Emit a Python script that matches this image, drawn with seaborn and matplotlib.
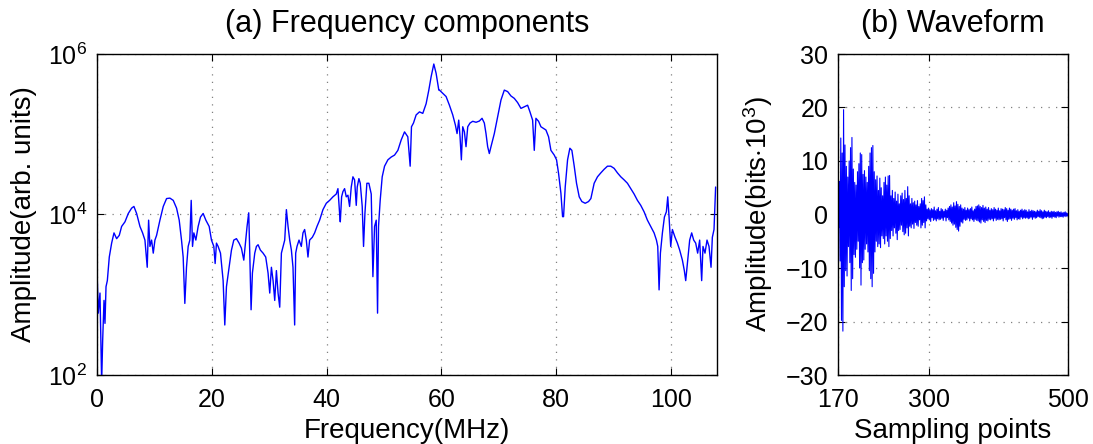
import numpy as np
import pandas as pd
import matplotlib
matplotlib.use("Agg")
import matplotlib.pyplot as plt
import seaborn as sns

# ---------------- data ----------------
freq_mhz = [
    0.0, 0.23, 0.52, 0.81, 0.99, 1.22, 1.39, 1.57, 1.80, 2.14, 2.55, 2.96, 3.42, 3.88, 4.29, 4.87,
    5.45, 6.03, 6.43, 6.90, 7.48, 7.94, 8.35, 8.75, 8.99, 9.22, 9.51, 9.80, 10.09, 10.38, 10.96,
    11.54, 12.12, 12.70, 13.28, 13.86, 14.32, 14.72, 15.01, 15.30, 15.59, 15.88, 16.17, 16.41,
    16.64, 16.87, 17.22, 17.62, 18.03, 18.49, 18.96, 19.54, 19.94, 20.35, 20.58, 20.81, 21.10,
    21.51, 21.97, 22.26, 22.55, 23.01, 23.42, 23.83, 24.29, 24.75, 25.16, 25.57, 25.91, 26.14,
    26.43, 26.61, 26.84, 27.07, 27.48, 27.77, 28.06, 28.46, 28.93, 29.39, 29.80, 30.09, 30.38,
    30.67, 30.96, 31.25, 31.54, 31.83, 32.12, 32.41, 32.70, 32.99, 33.28, 33.57, 33.86, 34.14,
    34.43, 34.61, 34.84, 35.19, 35.59, 35.88, 36.17, 36.46, 36.75, 37.04, 37.51, 37.91, 38.32,
    38.78, 39.36, 39.94, 40.52, 41.10, 41.68, 41.97, 42.26, 42.38, 42.61, 42.84, 43.13, 43.42,
    43.71, 44.00, 44.29, 44.58, 44.87, 45.16, 45.33, 45.62, 45.86, 46.20, 46.43, 46.67, 47.01,
    47.36, 47.77, 48.06, 48.35, 48.64, 48.87, 49.04, 49.33, 49.68, 50.09, 50.67, 51.25, 51.83,
    52.41, 52.99, 53.57, 54.14, 54.55, 54.78, 55.13, 55.59, 56.17, 56.75, 57.33, 57.80, 58.20,
    58.67, 59.07, 59.54, 59.65, 60.23, 60.81, 61.39, 61.97, 62.43, 62.72, 63.01, 63.24, 63.47,
    63.71, 64.00, 64.28, 64.58, 64.98, 65.45, 66.03, 66.60, 67.07, 67.47, 67.76, 68.05, 68.34,
    68.63, 69.21, 69.79, 70.37, 70.95, 71.53, 72.11, 72.69, 73.27, 73.85, 74.43, 75.01, 75.42,
    75.88, 76.17, 76.46, 76.92, 77.33, 77.73, 78.20, 78.66, 79.07, 79.65, 80.05, 80.40, 80.81,
    81.10, 81.27, 81.56, 81.97, 82.37, 82.72, 83.13, 83.53, 84.00, 84.46, 85.04, 85.62, 86.03,
    86.60, 87.18, 87.76, 88.34, 88.92, 89.50, 90.08, 90.66, 91.24, 91.82, 92.40, 92.98, 93.56,
    94.14, 94.72, 95.30, 95.88, 96.46, 97.04, 97.45, 97.68, 97.91, 98.14, 98.49, 98.84, 99.18,
    99.42, 99.65, 99.94, 100.23, 100.69, 101.10, 101.50, 101.97, 102.31, 102.55, 102.89, 103.24,
    103.59, 103.94, 104.29, 104.63, 104.98, 105.33, 105.56, 105.91, 106.26, 106.61, 106.96,
    107.19, 107.48, 107.76,
]
spectrum_amp = [
    2.0e3, 590, 1.05e3, 80, 275, 850, 440, 1.26e3, 1.5e3, 2.95e3, 4.4e3, 5.9e3, 5.0e3, 5.5e3,
    7.1e3, 8.1e3, 1.03e4, 1.2e4, 1.26e4, 1.03e4, 7.1e3, 5.9e3, 4.8e3, 2.2e3, 8.5e3, 4.0e3,
    4.8e3, 3.3e3, 4.8e3, 5.5e3, 8.5e3, 1.26e4, 1.58e4, 1.6e4, 1.5e4, 1.2e4, 8.5e3, 4.8e3,
    2.95e3, 780, 2.2e3, 4.0e3, 4.8e3, 1.5e4, 4.0e3, 5.9e3, 4.8e3, 7.1e3, 9.3e3, 1.03e4, 8.5e3,
    7.1e3, 4.8e3, 4.0e3, 2.45e3, 4.4e3, 4.0e3, 3.3e3, 1.5e3, 420, 1.26e3, 2.2e3, 3.6e3, 4.8e3,
    5.0e3, 4.4e3, 3.8e3, 2.7e3, 4.8e3, 7.1e3, 1.05e4, 3.3e3, 650, 1.86e3, 3.3e3, 4.0e3, 4.2e3,
    3.6e3, 3.3e3, 2.95e3, 1.86e3, 1.05e3, 2.2e3, 1.5e3, 850, 2.0e3, 1.05e3, 700, 3.3e3, 4.0e3,
    4.8e3, 1.15e4, 7.1e3, 4.8e3, 3.6e3, 2.2e3, 420, 3.3e3, 4.0e3, 4.8e3, 4.0e3, 5.9e3, 6.5e3,
    4.8e3, 2.95e3, 4.8e3, 5.2e3, 5.9e3, 7.1e3, 8.5e3, 1.15e4, 1.38e4, 1.5e4, 1.66e4, 1.8e4,
    2.1e4, 1.03e4, 8.1e3, 1.66e4, 1.93e4, 2.1e4, 1.66e4, 1.74e4, 1.26e4, 2.2e4, 2.95e4, 2.7e4,
    1.3e4, 2.2e4, 2.8e4, 2.45e4, 1.26e4, 4.0e3, 1.03e4, 2.45e4, 2.45e4, 1.8e4, 1.68e3, 7.1e3,
    8.5e3, 590, 7.1e3, 1.5e4, 2.95e4, 4.0e4, 4.8e4, 5.2e4, 5.5e4, 6.3e4, 8.5e4, 1.07e5, 9.3e4,
    4.0e4, 1.24e5, 1.38e5, 1.74e5, 1.9e5, 1.82e5, 2.4e5, 3.55e5, 5.2e5, 7.5e5, 5.75e5, 3.55e5,
    3.55e5, 3.24e5, 2.95e5, 2.3e5, 1.74e5, 1.3e5, 1.02e5, 1.5e5, 9.3e4, 4.8e4, 1.24e5, 1.07e5,
    7.0e4, 1.24e5, 1.38e5, 1.45e5, 1.41e5, 1.46e5, 1.58e5, 1.38e5, 1.02e5, 7.0e4, 5.75e4,
    7.0e4, 1.02e5, 1.66e5, 2.67e5, 3.55e5, 3.4e5, 3.0e5, 2.8e5, 2.48e5, 2.1e5, 2.2e5, 2.3e5,
    1.9e5, 1.5e5, 6.3e4, 1.58e5, 1.45e5, 1.24e5, 1.19e5, 1.13e5, 9.3e4, 6.3e4, 5.5e4, 4.8e4,
    3.26e4, 1.84e4, 9.4e3, 9.4e3, 2.2e4, 4.8e4, 6.7e4, 6.3e4, 4.0e4, 2.45e4, 1.66e4, 1.45e4,
    1.38e4, 1.45e4, 1.58e4, 2.45e4, 2.95e4, 3.3e4, 3.66e4, 4.0e4, 4.0e4, 3.76e4, 3.3e4, 2.95e4,
    2.7e4, 2.45e4, 2.1e4, 1.8e4, 1.5e4, 1.3e4, 1.08e4, 8.5e3, 7.1e3, 5.9e3, 4.8e3, 4.0e3,
    1.15e3, 3.3e3, 5.9e3, 9.3e3, 1.08e4, 1.66e4, 9.3e3, 4.0e3, 6.5e3, 5.2e3, 4.4e3, 3.6e3,
    2.7e3, 2.0e3, 1.5e3, 2.7e3, 4.8e3, 5.9e3, 4.8e3, 4.4e3, 3.3e3, 4.8e3, 1.5e3, 4.0e3, 3.3e3,
    4.8e3, 4.0e3, 2.2e3, 5.2e3, 6.5e3, 2.2e4,
]

sample_start, sample_end = 170, 500
waveform_kbits = [
    0.3, -2.5, 6.2, -8.7, 14.3, -19.8, 11.5, -21.8, 19.6, -13.5,
    13.0, -10.5, 9.0, -11.5, 7.0, -6.0, 10.0, -9.0, 12.5, -14.2,
    14.4, -12.0, 8.5, -7.5, 6.0, -8.0, 5.5, -6.5, 8.0, -5.0,
    9.5, -10.0, 11.5, -13.2, 11.2, -9.0, 7.5, -8.5, 8.2, -6.5,
    7.0, -5.5, 6.0, -7.0, 9.0, -10.5, 11.5, -12.0, 12.5, -13.5,
    12.9, -11.0, 8.0, -7.0, 6.5, -5.0, 7.2, -6.0, 4.5, -5.5,
    6.8, -6.2, 5.0, -4.0, 3.5, -4.5, 6.0, -5.5, 7.0, -4.0,
    5.5, -5.0, 7.2, -6.0, 7.3, -4.5, 3.5, -3.0, 4.5, -4.0,
    3.0, -2.5, 4.2, -3.5, 2.5, -4.7, 3.8, -3.0, 2.0, -2.8,
    3.5, -2.0, 4.0, -3.2, 2.8, -3.8, 4.5, -3.5, 3.0, -2.5,
    5.2, -4.0, 3.5, -2.2, 2.0, -2.5, 3.0, -1.8, 2.2, -2.6,
    2.5, -1.5, 1.8, -2.0, 2.6, -2.2, 1.5, -1.0, 2.0, -2.5,
    3.0, -2.0, 2.6, -1.5, 3.3, -2.5, 1.8, -1.2, 1.0, -0.8,
    1.2, -1.0, 0.8, -1.3, 1.1, -0.6, 0.9, -1.1, 1.4, -0.9,
    0.7, -1.2, 1.0, -0.8, 1.3, -1.0, 0.6, -0.9, 1.1, -0.7,
    0.9, -1.1, 0.6, -0.5, 1.0, -1.2, 0.8, -0.6, 1.2, -1.0,
    1.5, -1.3, 1.8, -1.6, 1.4, -2.0, 2.2, -1.8, 1.6, -2.4,
    2.4, -2.8, 1.9, -3.1, 1.5, -2.2, 1.8, -1.4, 1.2, -1.6,
    1.0, -0.9, 1.3, -1.1, 0.8, -1.0, 1.2, -0.7, 0.9, -1.2,
    1.1, -0.8, 1.4, -1.0, 0.7, -1.3, 1.0, -0.9, 1.5, -1.1,
    1.6, -1.2, 1.8, -1.4, 1.5, -1.6, 1.3, -1.0, 1.7, -1.3,
    1.2, -1.5, 1.4, -1.1, 1.0, -1.2, 1.3, -0.9, 0.8, -1.0,
    1.1, -0.8, 0.9, -1.2, 1.3, -0.7, 1.0, -1.1, 0.8, -0.9,
    1.2, -1.0, 0.7, -0.9, 1.1, -0.8, 1.0, -1.2, 0.9, -0.6,
    1.3, -1.0, 1.1, -1.3, 0.8, -0.9, 1.2, -0.8, 1.0, -1.1,
    0.8, -0.7, 1.0, -0.9, 1.1, -0.6, 0.7, -1.0, 0.9, -0.8,
    0.6, -0.9, 0.8, -0.5, 1.0, -0.8, 0.7, -0.6, 0.9, -0.7,
    0.8, -0.6, 0.5, -0.8, 0.9, -0.7, 0.6, -0.5, 0.8, -0.9,
    0.7, -0.5, 0.6, -0.7, 0.5, -0.6, 0.8, -0.4, 0.6, -0.5,
    0.9, -0.6, 0.7, -0.8, 0.5, -0.7, 0.8, -0.5, 0.6, -0.6,
    0.5, -0.4, 0.7, -0.6, 0.4, -0.5, 0.6, -0.7, 0.5, -0.4,
    0.6, -0.5, 0.4, -0.6, 0.5, -0.3, 0.6, -0.5, 0.4, -0.4,
    0.5, -0.4, 0.3, -0.5, 0.4, -0.3, 0.5, -0.4, 0.3, -0.3, 0.2,
]

freq_ticks = [0, 20, 40, 60, 80, 100]
amp_ticks = [1e2, 1e4, 1e6]
sample_ticks = [170, 300, 500]
wave_ticks = [-30, -20, -10, 0, 10, 20, 30]

# ---------------- style ----------------
sns.set_style("ticks")
plt.rcParams["font.family"] = ["Liberation Sans", "DejaVu Sans"]
plt.rcParams["mathtext.fontset"] = "custom"
plt.rcParams["mathtext.rm"] = "Liberation Sans"
plt.rcParams["mathtext.it"] = "Liberation Sans:italic"
for key in ("text.color", "axes.labelcolor", "xtick.color", "ytick.color"):
    plt.rcParams[key] = "black"
FS_TICK = 18
FS_LABEL = 20
FS_TITLE = 22

fig = plt.figure(figsize=(10.93, 4.44), dpi=100)
ax1 = fig.add_axes([97 / 1093, 1 - 375 / 444, (717 - 97) / 1093, (375 - 54) / 444])
ax2 = fig.add_axes([838 / 1093, 1 - 375 / 444, (1068 - 838) / 1093, (375 - 54) / 444])

spec_df = pd.DataFrame({"freq": freq_mhz, "amp": spectrum_amp})
wave_df = pd.DataFrame({"sample": np.arange(sample_start, sample_end + 1),
                        "amp": waveform_kbits})

sns.lineplot(data=spec_df, x="freq", y="amp", ax=ax1, color="#0000ff",
             linewidth=1.0, estimator=None, sort=False)
sns.lineplot(data=wave_df, x="sample", y="amp", ax=ax2, color="#0000ff",
             linewidth=0.8, estimator=None, sort=False)

grid_kw = dict(color="#808080", linestyle=(0, (1, 5)), linewidth=0.9)

# left panel
ax1.set_yscale("log")
ax1.set_xlim(0, 108)
ax1.set_ylim(1e2, 1e6)
ax1.set_xticks(freq_ticks)
ax1.set_yticks(amp_ticks)
ax1.yaxis.set_minor_locator(matplotlib.ticker.NullLocator())
ax1.grid(True, which="major", **grid_kw)
ax1.set_title("(a) Frequency components", fontsize=FS_TITLE, pad=16)
ax1.set_xlabel("Frequency(MHz)", fontsize=FS_LABEL, labelpad=4.5)
ax1.set_ylabel("Amplitude(arb. units)", fontsize=FS_LABEL, labelpad=8)

# right panel
ax2.set_xlim(sample_start, sample_end)
ax2.set_ylim(-30, 30)
ax2.set_xticks(sample_ticks)
ax2.set_yticks(wave_ticks)
ax2.set_yticklabels([("\u2212" + str(-t)) if t < 0 else str(t) for t in wave_ticks])
ax2.grid(True, which="major", **grid_kw)
ax2.set_title("(b) Waveform", fontsize=FS_TITLE, pad=16)
ax2.set_xlabel("Sampling points", fontsize=FS_LABEL, labelpad=4.5)
ax2.set_ylabel(r"Amplitude(bits$\cdot$10$^3$)", fontsize=FS_LABEL, labelpad=8)

for ax in (ax1, ax2):
    for s in ax.spines.values():
        s.set_visible(True)
        s.set_color("black")
        s.set_linewidth(1.0)
    ax.tick_params(direction="in", top=True, right=True, labelsize=FS_TICK,
                   length=5, width=0.8, colors="black")
    ax.tick_params(axis="x", pad=9.5)
    ax.tick_params(axis="y", pad=7)
    ax.set_facecolor("white")

fig.savefig("out.png", dpi=100, facecolor="white")
